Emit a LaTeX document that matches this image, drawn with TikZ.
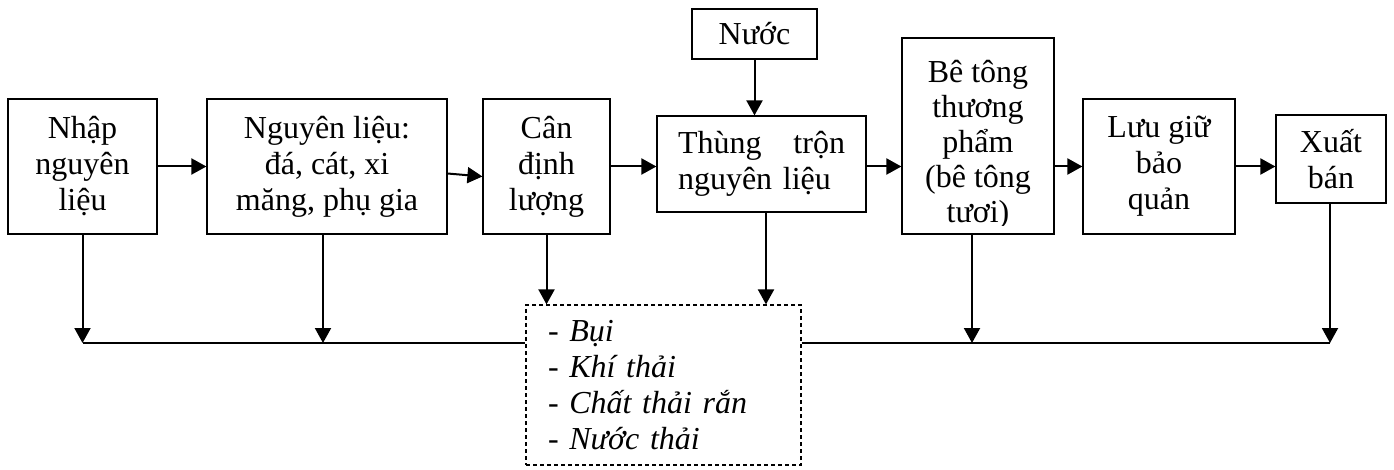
\documentclass[tikz,border=0pt]{standalone}
\usepackage{fontspec}
\setmainfont{Liberation Serif}
\usetikzlibrary{arrows.meta}

\begin{document}
\begin{tikzpicture}[x=1pt,y=-1pt,
  box/.style={draw,line width=1.2pt,inner sep=0pt,align=center},
  flow/.style={line width=2pt,-{Triangle[length=15pt,width=16pt]}},
  bus/.style={line width=1.5pt}]
\fontsize{32}{36}\selectfont
\useasboundingbox (0,0) rectangle (1394,470);
% process steps
\node[box,minimum width=149pt,minimum height=135pt] (nhap) at (82.5,166.5) {Nhập\\nguyên\\liệu};
\node[box,minimum width=240pt,minimum height=135pt] (nglieu) at (327,166.5) {Nguyên liệu:\\đá, cát, xi\\măng, phụ gia};
\node[box,minimum width=127pt,minimum height=135pt] (can) at (546.5,166.5) {Cân\\định\\lượng};
\node[box,minimum width=209pt,minimum height=96pt,text width=167pt,align=left] (thung) at (761.5,164) {Thùng\hfill trộn\\nguyên liệu};
\node[box,minimum width=125pt,minimum height=50pt] (nuoc) at (754.5,34) {Nước};
\begin{scope}
  \clip (902,38) rectangle (1054,226);
  \node[align=center,anchor=base,font=\fontsize{32}{35}\selectfont] (betongtxt) at (978,223) {Bê tông\\thương\\phẩm\\(bê tông\\tươi)};
\end{scope}
\node[box,minimum width=152pt,minimum height=196pt] (betong) at (978,136) {};
\node[box,minimum width=152pt,minimum height=135pt] (luugiu) at (1159,166.5) {Lưu giữ\\bảo\\quản};
\node[box,minimum width=110pt,minimum height=88pt] (xuat) at (1331,159) {Xuất\\bán};
% waste
\node[box,dash pattern=on 4pt off 3pt,minimum width=275pt,minimum height=160pt,text width=231pt,align=left,font=\itshape] (chat) at (663.5,385) {- Bụi\\- Khí thải\\- Chất thải rắn\\- Nước thải};
\coordinate (busl) at (83,343);
\coordinate (busr) at (1330,343);
% main flow
\draw[flow] (nhap.east) -- (nglieu.west);
\draw[flow] ([yshift=-7pt]nglieu.east) -- ([yshift=-10pt]can.west);
\draw[flow] (can.east) -- (can.east -| thung.west);
\draw[flow] (can.east -| thung.east) -- (can.east -| betong.west);
\draw[flow] (luugiu.west -| betong.east) -- (luugiu.west);
\draw[flow] (luugiu.east) -- (luugiu.east -| xuat.west);
\draw[flow] (nuoc.south) -- (nuoc.south |- thung.north);
% to waste
\draw[flow] (nhap.south) -- (nhap.south |- busl);
\draw[flow] ([xshift=-4pt]nglieu.south) -- ([xshift=-4pt]nglieu.south |- busl);
\draw[flow] (can.south) -- (can.south |- chat.north);
\draw[flow] ([xshift=4.5pt]thung.south) -- ([xshift=4.5pt]thung.south |- chat.north);
\draw[flow] ([xshift=-6pt]betong.south) -- ([xshift=-6pt]betong.south |- busr);
\draw[flow] (xuat.south -| busr) -- (busr);
\draw[bus] (busl) -- (busl -| chat.west);
\draw[bus] (chat.east |- busr) -- (busr);
\end{tikzpicture}
\end{document}
